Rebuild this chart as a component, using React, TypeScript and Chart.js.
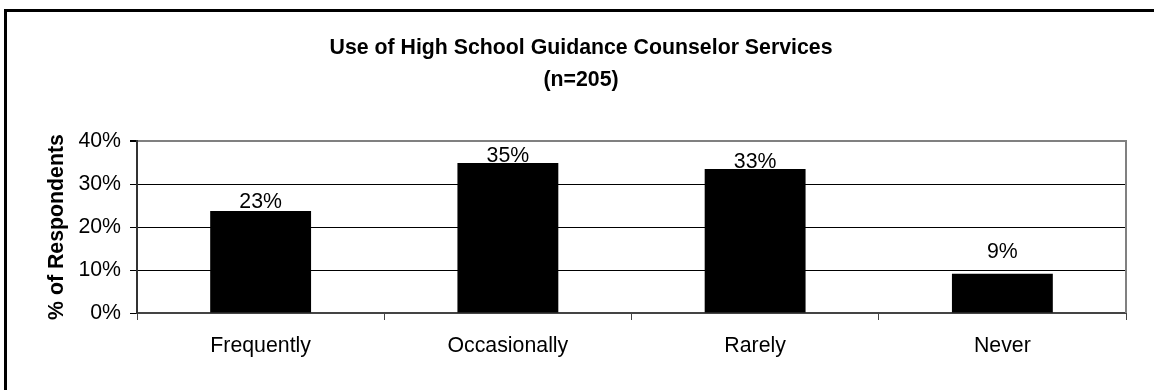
import React, { useEffect, useRef } from "react";
import { Chart, registerables } from "chart.js";

Chart.register(...registerables);

const titleLines = ["Use of High School Guidance Counselor Services", "(n=205)"];
const categories = ["Frequently", "Occasionally", "Rarely", "Never"];
const values = [23.7, 34.9, 33.5, 9.1];
const valueLabels = ["23%", "35%", "33%", "9%"];
const yTicks = [0, 10, 20, 30, 40];
const yAxisTitle = "% of Respondents";

const FONT = "'Liberation Sans', Arial, Helvetica, sans-serif";
const FS = 21.3;

export default function App() {
  const ref = useRef<HTMLCanvasElement | null>(null);

  useEffect(() => {
    const canvas = ref.current;
    if (!canvas) return;

    const framePlugin = {
      id: "frame",
      beforeDraw(chart: any) {
        const ctx = chart.ctx;
        ctx.save();
        ctx.fillStyle = "#fff";
        ctx.fillRect(0, 0, chart.width, chart.height);
        ctx.strokeStyle = "#000";
        ctx.lineWidth = 3;
        ctx.strokeRect(5.5, 10.5, chart.width + 20, chart.height + 20);
        ctx.restore();
      },
    };

    const titlePlugin = {
      id: "twoLineTitle",
      afterDraw(chart: any) {
        const ctx = chart.ctx;
        ctx.save();
        ctx.fillStyle = "#000";
        ctx.font = `bold ${FS}px ${FONT}`;
        ctx.textAlign = "center";
        ctx.textBaseline = "alphabetic";
        const baselines = [54, 86];
        titleLines.forEach((t, i) => ctx.fillText(t, 581, baselines[i]));
        ctx.restore();
      },
    };

    const labelOffsets = [3, 1, 1, 16];
    const labelPlugin = {
      id: "valueLabels",
      afterDatasetsDraw(chart: any) {
        const ctx = chart.ctx;
        const meta = chart.getDatasetMeta(0);
        ctx.save();
        ctx.fillStyle = "#000";
        ctx.font = `${FS}px ${FONT}`;
        ctx.textAlign = "center";
        ctx.textBaseline = "alphabetic";
        meta.data.forEach((bar: any, i: number) => {
          ctx.fillText(valueLabels[i], bar.x, bar.y - labelOffsets[i]);
        });
        ctx.restore();
      },
    };

    const rightBorderPlugin = {
      id: "rightBorder",
      afterDatasetsDraw(chart: any) {
        const { ctx, chartArea } = chart;
        ctx.save();
        ctx.strokeStyle = "#808080";
        ctx.lineWidth = 2;
        ctx.beginPath();
        ctx.moveTo(chartArea.right, chartArea.top - 1);
        ctx.lineTo(chartArea.right, chartArea.bottom);
        ctx.stroke();
        ctx.restore();
      },
    };

    const chart = new Chart(canvas, {
      type: "bar",
      data: {
        labels: categories,
        datasets: [
          {
            data: values,
            backgroundColor: "#000",
            borderColor: "#000",
            borderWidth: 0,
            barPercentage: 0.408,
            categoryPercentage: 1,
          },
        ],
      },
      options: {
        responsive: false,
        animation: false,
        layout: { padding: { top: 141, left: 0, right: 28, bottom: 0 } },
        plugins: {
          legend: { display: false },
          title: { display: false },
          tooltip: { enabled: false },
        },
        scales: {
          x: {
            offset: true,
            grid: {
              offset: true,
              drawOnChartArea: false,
              drawTicks: true,
              tickLength: 7,
              tickColor: "#444",
              lineWidth: 1,
            },
            border: { display: true, color: "#444", width: 2 },
            ticks: {
              color: "#000",
              font: { family: FONT, size: FS },
              padding: 13,
              maxRotation: 0,
              autoSkip: false,
            },
            afterFit(scale: any) {
              scale.height = 77;
            },
          },
          y: {
            min: 0,
            max: 40,
            afterBuildTicks(scale: any) {
              scale.ticks = yTicks.map((v) => ({ value: v }));
            },
            grid: {
              color: (c: any) => (c.tick && c.tick.value === 40 ? "#808080" : "#000"),
              lineWidth: (c: any) => (c.tick && c.tick.value === 40 ? 2 : 1),
              drawTicks: true,
              tickLength: 7,
              tickColor: "#000",
            },
            border: { display: true, color: "#333", width: 2 },
            ticks: {
              color: "#000",
              font: { family: FONT, size: FS },
              padding: 9,
              callback: (v: any) => `${v}%`,
            },
            title: {
              display: true,
              text: yAxisTitle,
              color: "#000",
              font: { family: FONT, size: FS, weight: "bold" },
              padding: { top: 44.7, bottom: 0 },
            },
            afterFit(scale: any) {
              scale.width = 137;
            },
          },
        },
      },
      plugins: [framePlugin, titlePlugin, labelPlugin, rightBorderPlugin],
    });

    return () => chart.destroy();
  }, []);

  return (
    <div style={{ position: "absolute", left: 0, top: 0, width: 1154, height: 390 }}>
      <canvas ref={ref} width={1154} height={390} style={{ display: "block" }} />
    </div>
  );
}
